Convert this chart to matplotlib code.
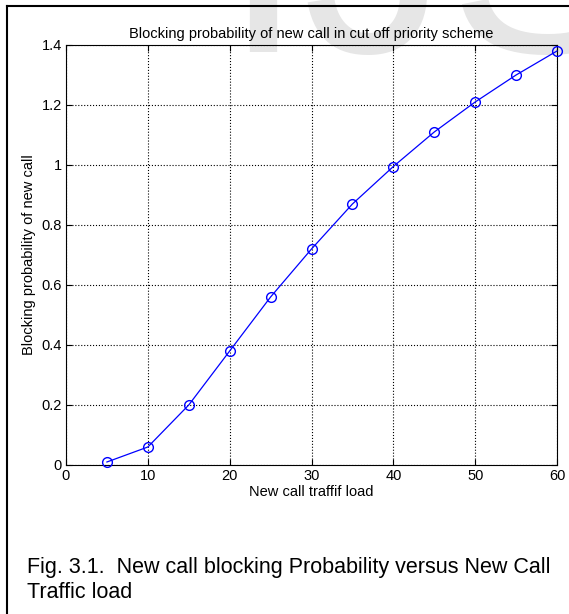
import matplotlib
matplotlib.use("Agg")
import matplotlib.pyplot as plt
from matplotlib.lines import Line2D

plt.rcParams['font.family'] = ['Liberation Sans', 'DejaVu Sans']

# traffic load vs blocking probability
load = [5, 10, 15, 20, 25, 30, 35, 40, 45, 50, 55, 60]
p_block = [0.01, 0.06, 0.20, 0.38, 0.56, 0.72, 0.87, 0.995, 1.11, 1.21, 1.30, 1.38]
xticks = [0, 10, 20, 30, 40, 50, 60]
yticks = [0, 0.2, 0.4, 0.6, 0.8, 1.0, 1.2, 1.4]
ylabels = ['0', '0.2', '0.4', '0.6', '0.8', '1', '1.2', '1.4']

W, H = 569, 614
fig = plt.figure(figsize=(W / 100, H / 100), dpi=100)

# faint watermark, mostly cut off at the top edge
fig.text(222 / W, 1 - 52 / H, 'IJSER', fontsize=210,
         color='#e6e6e6', ha='left', va='baseline', zorder=-5)

# page frame (top + left edges)
fig.add_artist(Line2D([7 / W, 1], [1 - 6 / H, 1 - 6 / H], color='black', lw=1.5))
fig.add_artist(Line2D([7 / W, 7 / W], [0, 1 - 6 / H], color='black', lw=1.5))

ax = fig.add_axes([66 / W, 1 - 465 / H, 491 / W, 420 / H])
ax.set_facecolor('none')
ax.plot(load, p_block, '-o', color='#0000ff', lw=0.9, ms=7,
        mfc='none', mec='#0000ff', mew=1.0, clip_on=False, zorder=3)
ax.set_xlim(0, 60)
ax.set_ylim(0, 1.4)
ax.set_xticks(xticks)
ax.set_yticks(yticks)
ax.set_yticklabels(ylabels)
ax.grid(True, color='black', ls=':', lw=0.8)
ax.tick_params(direction='in', length=4, labelsize=10.5, top=True, right=True)
ax.tick_params(axis='y', pad=3)
ax.tick_params(axis='x', pad=3)
for s in ax.spines.values():
    s.set_linewidth(0.8)
ax.set_title('Blocking probability of new call in cut off priority scheme',
             fontsize=10.5, pad=5)
ax.set_xlabel('New call traffif load', fontsize=10.5, labelpad=1)
ax.set_ylabel('Blocking probability of new call', fontsize=10.5, labelpad=4)

fig.text(27 / W, 1 - 568 / H, 'Fig. 3.1.  New call blocking Probability versus New Call',
         fontsize=15.5, va='center')
fig.text(27 / W, 1 - 592 / H, 'Traffic load', fontsize=15.5, va='center')

fig.savefig('out.png', dpi=100)
